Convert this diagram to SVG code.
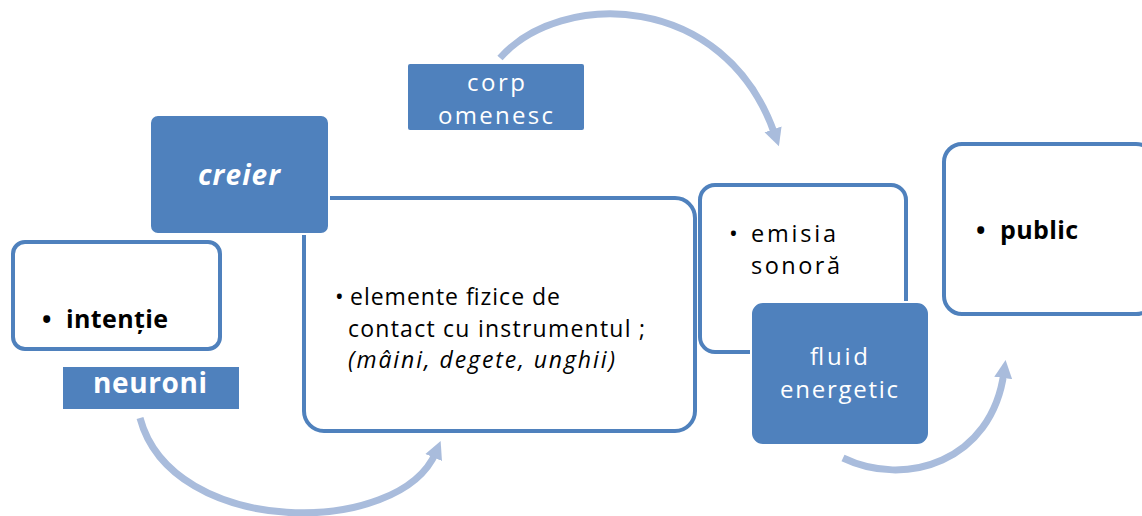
<svg xmlns="http://www.w3.org/2000/svg" width="1142" height="516" viewBox="0 0 1142 516">
<defs>
<marker id="ah" markerUnits="userSpaceOnUse" markerWidth="24" markerHeight="24" viewBox="0 0 24 24" refX="6" refY="12" orient="auto">
<path d="M0,3 L18,12 L0,21 Z" fill="#a9bcdc"/>
</marker>
<style>
.box{fill:#ffffff;stroke:#4f81bd;stroke-width:4}
.fill{fill:#4f81bd;stroke:#ffffff;stroke-width:2}
.t{font-family:"Open Sans","Liberation Sans",Arial,sans-serif;fill:#000000}
.w{font-family:"Open Sans","Liberation Sans",Arial,sans-serif;fill:#ffffff}
.arc{fill:none;stroke:#a9bcdc;stroke-width:7;marker-end:url(#ah)}
</style>
</defs>
<rect width="1142" height="516" fill="#ffffff"/>
<g id="connectors">
<path class="arc" d="M500,58 C560,-10 725,-10 775,135"/>
<path class="arc" d="M140,418 C172,538 400,538 436,452"/>
<path class="arc" d="M843,458 C905,488 992,462 1004,372"/>
</g>
<g id="node-intentie">
<rect class="box" x="13" y="242" width="207" height="107" rx="12"/>
<text class="t" font-size="25" font-weight="bold"><tspan x="42" y="328">•</tspan><tspan x="66" y="328" textLength="102" lengthAdjust="spacing">intenție</tspan></text>
</g>
<g id="node-neuroni">
<rect class="fill" x="62" y="366" width="178" height="44"/>
<text class="w" x="93" y="393" font-size="28" font-weight="bold" textLength="114" lengthAdjust="spacing">neuroni</text>
</g>
<g id="node-elemente">
<rect class="box" x="304" y="198" width="391" height="233" rx="20"/>
<text class="t" font-size="23">
<tspan x="335" y="305">•</tspan><tspan x="350" y="305" textLength="210" lengthAdjust="spacing">elemente fizice de</tspan>
<tspan x="348" y="337" textLength="297" lengthAdjust="spacing">contact cu instrumentul ;</tspan>
<tspan x="348" y="368" font-style="italic" textLength="267" lengthAdjust="spacing">(mâini, degete, unghii)</tspan>
</text>
</g>
<g id="node-creier">
<rect class="fill" x="150" y="115" width="179" height="119" rx="8"/>
<text class="w" x="198" y="185" font-size="28" font-weight="bold" font-style="italic" textLength="82" lengthAdjust="spacing">creier</text>
</g>
<g id="node-corp">
<rect class="fill" x="407" y="63" width="178" height="68" rx="3"/>
<text class="w" font-size="24">
<tspan x="467" y="91" textLength="58" lengthAdjust="spacing">corp</tspan>
<tspan x="438" y="124" textLength="115" lengthAdjust="spacing">omenesc</tspan>
</text>
</g>
<g id="node-emisia">
<rect class="box" x="700" y="185" width="206" height="167" rx="15"/>
<text class="t" font-size="23.5">
<tspan x="729" y="242">•</tspan><tspan x="751" y="242" textLength="85" lengthAdjust="spacing">emisia</tspan>
<tspan x="751" y="274" textLength="89" lengthAdjust="spacing">sonoră</tspan>
</text>
</g>
<g id="node-fluid">
<rect class="fill" x="751" y="302" width="178" height="143" rx="12"/>
<text class="w" font-size="24">
<tspan x="810" y="365" textLength="58" lengthAdjust="spacing">fluid</tspan>
<tspan x="780" y="398" textLength="118" lengthAdjust="spacing">energetic</tspan>
</text>
</g>
<g id="node-public">
<rect class="box" x="944" y="144" width="210" height="170" rx="18"/>
<text class="t" font-size="25" font-weight="bold"><tspan x="976" y="239">•</tspan><tspan x="1000" y="239" textLength="78" lengthAdjust="spacing">public</tspan></text>
</g>
</svg>
